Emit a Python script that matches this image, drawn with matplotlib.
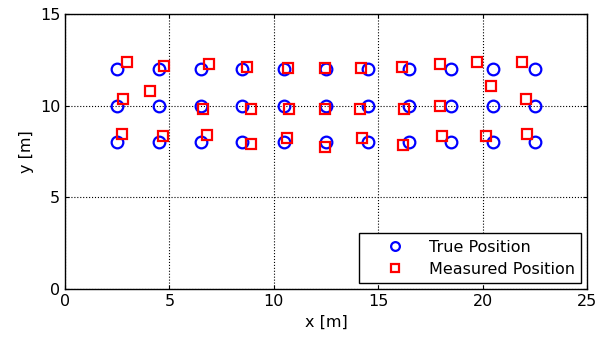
import numpy as np
import matplotlib
matplotlib.use("Agg")
import matplotlib.pyplot as plt

# true grid of positions
true_x = [2.5, 4.5, 6.5, 8.5, 10.5, 12.5, 14.5, 16.5, 18.5, 20.5, 22.5] * 3
true_y = [12] * 11 + [10] * 11 + [8] * 11

# measured positions
meas_x = [2.97, 4.74, 6.9, 8.72, 10.68, 12.45, 14.18, 16.14, 17.96, 19.73, 21.89,
          2.78, 4.07, 6.6, 8.9, 10.73, 12.45, 14.13, 16.24, 17.96, 20.4, 22.08,
          2.73, 4.69, 6.8, 8.9, 10.63, 12.45, 14.22, 16.19, 18.06, 20.16, 22.13]
meas_y = [12.38, 12.17, 12.27, 12.11, 12.06, 12.06, 12.06, 12.11, 12.27, 12.38, 12.38,
          10.36, 10.8, 9.8, 9.8, 9.8, 9.8, 9.82, 9.82, 10.0, 11.07, 10.36,
          8.45, 8.35, 8.4, 7.9, 8.24, 7.75, 8.24, 7.86, 8.35, 8.35, 8.45]

plt.rcParams['font.family'] = ['DejaVu Sans']
plt.rcParams['font.size'] = 11.5

fig = plt.figure(figsize=(6.04, 3.41), dpi=100)
ax = fig.add_axes([0.1076, 0.1525, 0.8642, 0.8065])

ax.plot(true_x, true_y, 'o', mfc='none', mec='#0000ff', mew=1.6, ms=8.4,
        label='True Position')
ax.plot(meas_x, meas_y, 's', mfc='none', mec='#ff0000', mew=1.6, ms=7.2,
        label='Measured Position')

ax.set_xlim(0, 25)
ax.set_ylim(0, 15)
ax.set_xticks([0, 5, 10, 15, 20, 25])
ax.set_yticks([0, 5, 10, 15])
ax.grid(True, color='black', linestyle=':', linewidth=0.8)
ax.tick_params(direction='in', length=3, width=0.8, top=True, right=True)
for s in ax.spines.values():
    s.set_linewidth(1.0)

ax.set_xlabel('x [m]')
ax.set_ylabel('y [m]')

leg = ax.legend(loc='lower right', fancybox=False, framealpha=1,
                edgecolor='black', borderaxespad=0.35, handlelength=3.8,
                handletextpad=0.2, borderpad=0.4, labelspacing=0.45,
                markerscale=0.75)
leg.get_frame().set_linewidth(1.0)

fig.savefig('out.png', dpi=100)
